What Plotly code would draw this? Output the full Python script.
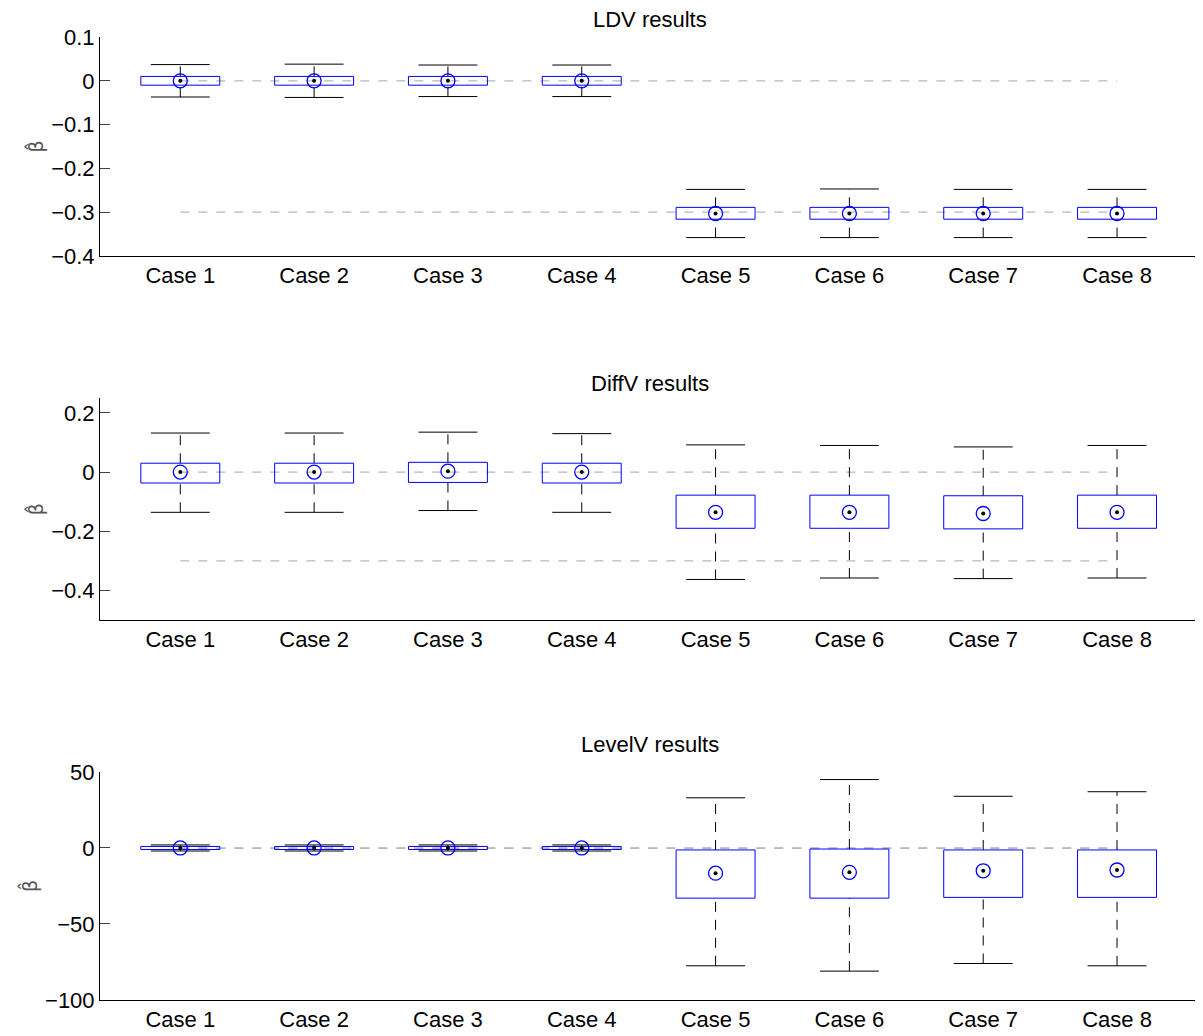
import plotly.graph_objects as go

cases = ["Case 1", "Case 2", "Case 3", "Case 4", "Case 5", "Case 6", "Case 7", "Case 8"]
titles = ["LDV results", "DiffV results", "LevelV results"]
true_values = [0, -0.3]

ldv_med = [0, 0, 0, 0, -0.303, -0.303, -0.303, -0.303]
ldv_q1 = [-0.01, -0.01, -0.01, -0.01, -0.316, -0.316, -0.316, -0.316]
ldv_q3 = [0.01, 0.01, 0.01, 0.01, -0.289, -0.289, -0.289, -0.289]
ldv_lo = [-0.037, -0.038, -0.036, -0.036, -0.358, -0.358, -0.358, -0.358]
ldv_hi = [0.037, 0.038, 0.036, 0.036, -0.248, -0.247, -0.248, -0.248]

diffv_med = [0, 0, 0.003, 0, -0.136, -0.136, -0.14, -0.136]
diffv_q1 = [-0.037, -0.037, -0.035, -0.037, -0.19, -0.19, -0.192, -0.19]
diffv_q3 = [0.03, 0.03, 0.033, 0.03, -0.078, -0.078, -0.08, -0.078]
diffv_lo = [-0.136, -0.136, -0.13, -0.136, -0.363, -0.358, -0.36, -0.358]
diffv_hi = [0.132, 0.132, 0.135, 0.13, 0.092, 0.09, 0.085, 0.09]

levelv_med = [0, 0, 0, 0, -16.6, -16, -15, -14.5]
levelv_q1 = [-1, -1, -1, -1, -33, -33, -32.5, -32.5]
levelv_q3 = [1, 1, 1, 1, -1.3, -0.7, -1.3, -1.3]
levelv_lo = [-2, -2, -2, -2, -77.5, -81, -76, -77.5]
levelv_hi = [2, 2, 2, 2, 33, 45, 34, 37]

panels = [
    (ldv_med, ldv_q1, ldv_q3, ldv_lo, ldv_hi, [-0.4, 0.1], [-0.4, -0.3, -0.2, -0.1, 0, 0.1]),
    (diffv_med, diffv_q1, diffv_q3, diffv_lo, diffv_hi, [-0.5, 0.25], [-0.4, -0.2, 0, 0.2]),
    (levelv_med, levelv_q1, levelv_q3, levelv_lo, levelv_hi, [-100, 50], [-100, -50, 0, 50]),
]
domains = [[0.7726, 1.0], [0.3946, 0.625], [0.0, 0.2368]]
title_shift = [3, 0, 13]

xs = list(range(1, 9))
half = 0.295
cap = 0.22

fig = go.Figure()
layout = {}
for i, (med, q1, q3, lo, hi, yr, tv) in enumerate(panels):
    n = "" if i == 0 else str(i + 1)
    xa, ya = "x" + n, "y" + n
    # reference lines
    for t in true_values:
        fig.add_trace(go.Scatter(x=[1, 8], y=[t, t], xaxis=xa, yaxis=ya, mode="lines",
                                 line=dict(color="#b8b8b8", width=1.3, dash="dash"), hoverinfo="skip"))
    wx, wy, cx, cy, bx, by = [], [], [], [], [], []
    for x, a, b, l, h in zip(xs, q1, q3, lo, hi):
        wx += [x, x, None, x, x, None]
        wy += [b, h, None, l, a, None]
        cx += [x - cap, x + cap, None, x - cap, x + cap, None]
        cy += [h, h, None, l, l, None]
        bx += [x - half, x + half, x + half, x - half, x - half, None]
        by += [a, a, b, b, a, None]
    fig.add_trace(go.Scatter(x=wx, y=wy, xaxis=xa, yaxis=ya, mode="lines",
                             line=dict(color="black", width=1, dash="10px,8px")))
    fig.add_trace(go.Scatter(x=cx, y=cy, xaxis=xa, yaxis=ya, mode="lines",
                             line=dict(color="black", width=1)))
    fig.add_trace(go.Scatter(x=bx, y=by, xaxis=xa, yaxis=ya, mode="lines",
                             line=dict(color="blue", width=1)))
    fig.add_trace(go.Scatter(x=xs, y=med, xaxis=xa, yaxis=ya, mode="markers",
                             marker=dict(symbol="circle-open", size=14, color="blue", line=dict(width=1.3))))
    fig.add_trace(go.Scatter(x=xs, y=med, xaxis=xa, yaxis=ya, mode="markers",
                             marker=dict(size=4, color="black")))
    layout["xaxis" + n] = dict(domain=[0, 1], anchor=ya, range=[0.4, 8.62], tickvals=xs, ticktext=cases,
                               showline=True, linecolor="black", ticks="", showgrid=False, zeroline=False,
                               automargin=False, tickfont=dict(size=22, color="black"))
    layout["yaxis" + n] = dict(domain=domains[i], anchor=xa, range=yr, tickvals=tv,
                               ticktext=[("%g" % v).replace("-", "\u2212") for v in tv],
                               showline=True, linecolor="black", ticks="inside", ticklen=10,
                               showgrid=False, zeroline=False, automargin=False,
                               tickfont=dict(size=22, color="black"),
                               title=dict(text="\u03b2\u0302",
                                          font=dict(size=19, color="#555", family="DejaVu Sans"),
                                          standoff=2))

annotations = []
for i, t in enumerate(titles):
    annotations.append(dict(text=t, x=0.5, xref="paper", y=domains[i][1], yref="paper",
                            yanchor="bottom", yshift=title_shift[i], showarrow=False,
                            font=dict(size=22, color="black")))

fig.update_layout(width=1203, height=1036, margin=dict(l=92, r=11, t=29, b=44, autoexpand=False),
                  plot_bgcolor="white", paper_bgcolor="white", showlegend=False,
                  font=dict(family="Liberation Sans, Arial, sans-serif"),
                  annotations=annotations, **layout)
fig.write_html("out.html")
